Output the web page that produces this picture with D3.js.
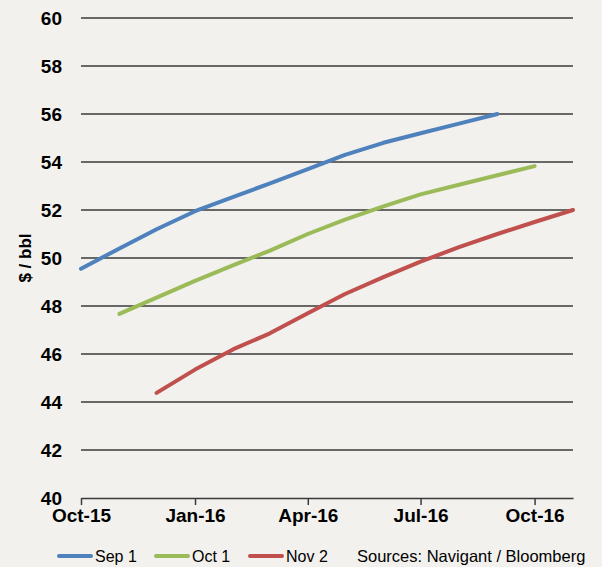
<!DOCTYPE html>
<html>
<head>
<meta charset="utf-8">
<script src="https://cdn.jsdelivr.net/npm/d3@7"></script>
<style>
  body { margin: 0; background: #f2f1ee; }
  svg { display: block; font-family: "Liberation Sans", Arial, sans-serif; }
</style>
</head>
<body>
<svg id="chart"></svg>
<script>
// monthly curve points, Oct-15 .. Nov-16
var months = ["2015-10","2015-11","2015-12","2016-01","2016-02","2016-03","2016-04",
              "2016-05","2016-06","2016-07","2016-08","2016-09","2016-10","2016-11"];
var tickMonths = ["2015-10","2016-01","2016-04","2016-07","2016-10"];
var tickLabels = ["Oct-15","Jan-16","Apr-16","Jul-16","Oct-16"];
var yTicks = [40,42,44,46,48,50,52,54,56,58,60];

var seriesNames = ["Sep 1","Oct 1","Nov 2"];
var colors = ["#4f81bd","#9bbb59","#c0504d"];
// null = no value for that month
var sep1 = [49.55,50.4,51.2,51.95,52.55,53.1,53.7,54.3,54.8,55.2,55.6,56.0,null,null];
var oct1 = [null,47.67,48.35,49.05,49.7,50.3,51.0,51.6,52.15,52.65,53.05,53.45,53.83,null];
var nov2 = [null,null,44.38,45.35,46.2,46.85,47.7,48.5,49.2,49.85,50.45,51.0,51.5,52.0];

var width = 602, height = 567;
var plotLeft = 81, plotRight = 573, plotTop = 18, plotBottom = 498;

var parse = d3.timeParse("%Y-%m");

var svg = d3.select("#chart")
    .attr("width", width)
    .attr("height", height);

svg.append("rect").attr("width", width).attr("height", height).attr("fill", "#f2f1ee");

var x = d3.scaleTime()
    .domain([parse(months[0]), parse(months[months.length-1])])
    .range([plotLeft, plotRight]);

var y = d3.scaleLinear()
    .domain([40, 60])
    .range([plotBottom, plotTop]);

// gridlines
svg.selectAll(".grid")
    .data(yTicks.slice(1))
    .enter()
    .append("line")
    .attr("x1", plotLeft).attr("x2", plotRight)
    .attr("y1", function(d){ return y(d); })
    .attr("y2", function(d){ return y(d); })
    .attr("stroke", "#3a3a3a")
    .attr("stroke-width", 1.5);

// y labels
svg.selectAll(".ylab")
    .data(yTicks)
    .enter()
    .append("text")
    .attr("x", 62)
    .attr("y", function(d){ return y(d); })
    .attr("dy", "0.36em")
    .attr("text-anchor", "end")
    .attr("font-size", 19)
    .attr("font-weight", "bold")
    .text(function(d){ return d; });

// x axis
var xAxis = svg.append("g")
    .attr("transform", "translate(0," + plotBottom + ")")
    .call(d3.axisBottom(x)
        .tickValues(tickMonths.map(parse))
        .tickFormat(function(d, i){ return tickLabels[i]; })
        .tickSize(7)
        .tickPadding(4)
        .tickSizeOuter(0));
xAxis.select(".domain").attr("stroke", "#3a3a3a").attr("stroke-width", 1.5);
xAxis.selectAll(".tick line").attr("stroke", "#3a3a3a").attr("stroke-width", 1.5);
xAxis.selectAll(".tick text")
    .attr("font-size", 19)
    .attr("font-weight", "bold")
    .attr("font-family", "Liberation Sans, Arial, sans-serif")
    .attr("fill", "#000");

// y title
svg.append("text")
    .attr("transform", "translate(31,258) rotate(-90)")
    .attr("text-anchor", "middle")
    .attr("font-size", 17)
    .attr("font-weight", "bold")
    .text("$ / bbl");

// lines
var line = d3.line()
    .defined(function(d){ return d.v != null; })
    .x(function(d){ return x(d.t); })
    .y(function(d){ return y(d.v); });

[sep1, oct1, nov2].forEach(function(s, i){
    var pts = s.map(function(v, j){ return {t: parse(months[j]), v: v}; });
    svg.append("path")
        .datum(pts)
        .attr("d", line)
        .attr("fill", "none")
        .attr("stroke", colors[i])
        .attr("stroke-width", 4)
        .attr("stroke-linejoin", "round")
        .attr("stroke-linecap", "round");
});

// legend
var legX = [57, 154, 248];
seriesNames.forEach(function(n, i){
    svg.append("line")
        .attr("x1", legX[i] + 2).attr("x2", legX[i] + 34)
        .attr("y1", 556).attr("y2", 556)
        .attr("stroke", colors[i])
        .attr("stroke-width", 4)
        .attr("stroke-linecap", "round");
    svg.append("text")
        .attr("x", legX[i] + 38)
        .attr("y", 562)
        .attr("font-size", 16)
        .text(n);
});
svg.append("text")
    .attr("x", 357)
    .attr("y", 562)
    .attr("font-size", 16.5)
    .text("Sources: Navigant / Bloomberg");
</script>
</body>
</html>
